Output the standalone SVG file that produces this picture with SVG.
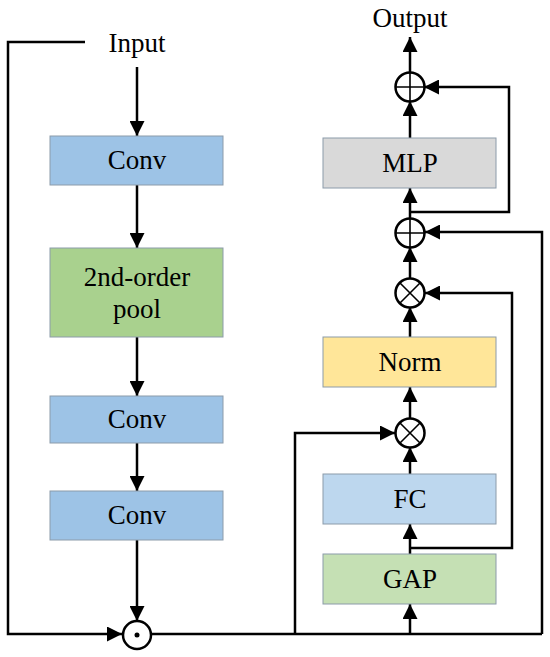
<svg xmlns="http://www.w3.org/2000/svg" width="550" height="657" viewBox="0 0 550 657">
<style>
  .box { stroke: #8C9BAA; stroke-width: 1; }
  .lbl { font-family: "Liberation Serif", "Times New Roman", serif; font-size: 27px; fill: #000; text-anchor: middle; }
  .con { fill: none; stroke: #000; stroke-width: 2.5; }
  .arr { marker-end: url(#ah); }
  .op { fill: #fff; stroke: #000; stroke-width: 2.5; }
  .sym { stroke: #000; stroke-width: 1.6; fill: none; }
</style>
<defs>
  <marker id="ah" markerUnits="userSpaceOnUse" markerWidth="15" markerHeight="15" viewBox="0 0 15 15" refX="15" refY="7.5" orient="auto">
    <path d="M0,0 L15,7.5 L0,15 Z" fill="#000"/>
  </marker>
</defs>
<rect width="550" height="657" fill="#fff"/>

<g id="connectors">
  <line class="con arr" x1="137" y1="67" x2="137" y2="136"/>
  <line class="con arr" x1="137" y1="185" x2="137" y2="248"/>
  <line class="con arr" x1="137" y1="337" x2="137" y2="396"/>
  <line class="con arr" x1="137" y1="443" x2="137" y2="491"/>
  <line class="con arr" x1="137" y1="540" x2="137" y2="621"/>
  <polyline class="con arr" points="85,42 8,42 8,634 122,634"/>
  <line class="con" x1="151" y1="634" x2="542" y2="634"/>
  <polyline class="con arr" points="295,634 295,433 395,433"/>
  <line class="con arr" x1="410" y1="634" x2="410" y2="604"/>
  <line class="con arr" x1="410" y1="554" x2="410" y2="524"/>
  <polyline class="con arr" points="410,548 512,548 512,293 425,293"/>
  <line class="con arr" x1="410" y1="474" x2="410" y2="447"/>
  <line class="con arr" x1="410" y1="418" x2="410" y2="387"/>
  <line class="con arr" x1="410" y1="337" x2="410" y2="307"/>
  <line class="con arr" x1="410" y1="279" x2="410" y2="247"/>
  <polyline class="con arr" points="542,634 542,232 425,232"/>
  <line class="con arr" x1="410" y1="218" x2="410" y2="188"/>
  <polyline class="con arr" points="410,212 509,212 509,87 424,87"/>
  <line class="con arr" x1="410" y1="138" x2="410" y2="101"/>
  <line class="con arr" x1="410" y1="73" x2="410" y2="37"/>
</g>

<g id="input"><text class="lbl" x="137" y="52">Input</text></g>
<g id="output"><text class="lbl" x="410" y="27">Output</text></g>

<g id="conv1">
  <rect class="box" x="50" y="136" width="173" height="49" fill="#9DC3E6"/>
  <text class="lbl" x="137" y="169">Conv</text>
</g>
<g id="pool">
  <rect class="box" x="50" y="248" width="173" height="89" fill="#A9D18E"/>
  <text class="lbl" x="137" y="286">2nd-order</text>
  <text class="lbl" x="137" y="318">pool</text>
</g>
<g id="conv2">
  <rect class="box" x="50" y="396" width="173" height="47" fill="#9DC3E6"/>
  <text class="lbl" x="137" y="428">Conv</text>
</g>
<g id="conv3">
  <rect class="box" x="50" y="491" width="173" height="49" fill="#9DC3E6"/>
  <text class="lbl" x="137" y="524">Conv</text>
</g>
<g id="odot">
  <circle class="op" cx="137" cy="635" r="14"/>
  <circle cx="137" cy="635" r="2.5" fill="#000"/>
</g>

<g id="gap">
  <rect class="box" x="323" y="554" width="173" height="50" fill="#C5E0B4"/>
  <text class="lbl" x="410" y="588">GAP</text>
</g>
<g id="fc">
  <rect class="box" x="323" y="474" width="173" height="50" fill="#BDD7EE"/>
  <text class="lbl" x="410" y="508">FC</text>
</g>
<g id="mul2">
  <circle class="op" cx="410" cy="433" r="14.5"/>
  <path class="sym" d="M400,423 L420,443 M420,423 L400,443"/>
</g>
<g id="norm">
  <rect class="box" x="323" y="337" width="173" height="50" fill="#FFE699"/>
  <text class="lbl" x="410" y="371">Norm</text>
</g>
<g id="mul1">
  <circle class="op" cx="410" cy="293" r="14.5"/>
  <path class="sym" d="M400,283 L420,303 M420,283 L400,303"/>
</g>
<g id="add2">
  <circle class="op" cx="410" cy="233" r="14.5"/>
  <path class="sym" d="M410,218.5 L410,247.5 M395.5,233 L424.5,233"/>
</g>
<g id="mlp">
  <rect class="box" x="323" y="138" width="173" height="50" fill="#D9D9D9"/>
  <text class="lbl" x="410" y="172">MLP</text>
</g>
<g id="add1">
  <circle class="op" cx="410" cy="87" r="14.5"/>
  <path class="sym" d="M410,72.5 L410,101.5 M395.5,87 L424.5,87"/>
</g>
</svg>
